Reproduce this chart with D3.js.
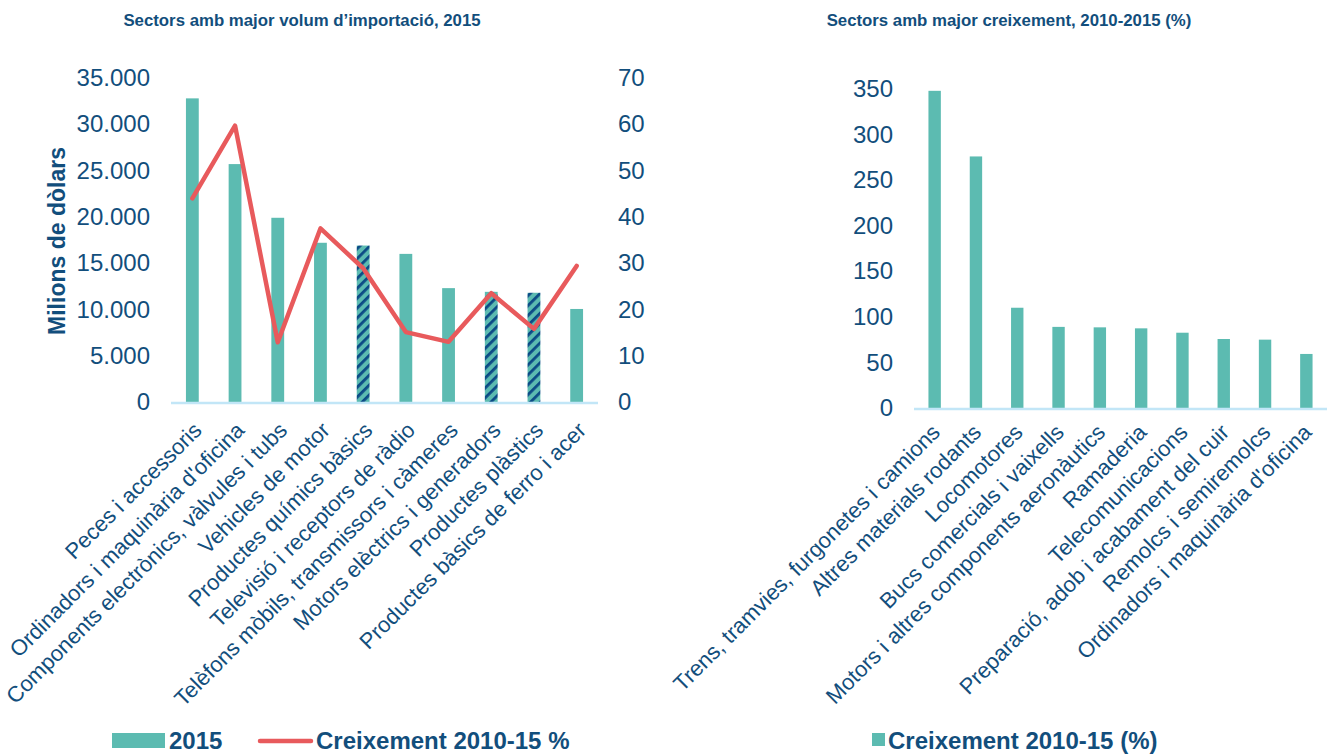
<!DOCTYPE html>
<html>
<head>
<meta charset="utf-8">
<script src="https://cdn.jsdelivr.net/npm/d3@7"></script>
<style>
  html, body { margin: 0; padding: 0; background: #fff; }
  svg { display: block; font-family: "Liberation Sans", Arial, sans-serif; }
</style>
</head>
<body>
<div id="chart"></div>
<script>
// dades: sectors amb major volum d'importació (2015)
const importSectors = [
  'Peces i accessoris',
  "Ordinadors i maquinària d'oficina",
  'Components electrònics, vàlvules i tubs',
  'Vehicles de motor',
  'Productes químics bàsics',
  'Televisió i receptors de ràdio',
  'Telèfons mòbils, transmissors i càmeres',
  'Motors elèctrics i generadors',
  'Productes plàstics',
  'Productes bàsics de ferro i acer'
];
const import2015 = [32800, 25700, 19900, 17200, 16900, 16000, 12300, 11900, 11800, 10050];
const importGrowth = [44.0, 59.7, 12.9, 37.5, 28.9, 15.1, 13.0, 23.5, 15.8, 29.4];
const leftTicks = [0, 5000, 10000, 15000, 20000, 25000, 30000, 35000];
const rightTicks = [0, 10, 20, 30, 40, 50, 60, 70];

// dades: sectors amb major creixement 2010-2015 (%)
const growthSectors = [
  'Trens, tramvies, furgonetes i camions',
  'Altres materials rodants',
  'Locomotores',
  'Bucs comercials i vaixells',
  'Motors i altres components aeronàutics',
  'Ramaderia',
  'Telecomunicacions',
  'Preparació, adob i acabament del cuir',
  'Remolcs i semiremolcs',
  "Ordinadors i maquinària d'oficina"
];
const growth1015 = [348, 276, 110, 89, 88.5, 87.4, 82.6, 75.7, 75, 59.3];
const growthTicks = [0, 50, 100, 150, 200, 250, 300, 350];

// barres ratllades al gràfic esquerre
const hatchedSectors = ['Productes químics bàsics', 'Motors elèctrics i generadors', 'Productes plàstics'];

const W = 1338, H = 754;
const TXT = '#124e7c', TEAL = '#5cbbb1', RED = '#e85a5c', STRIPE = '#0b4a85', AXIS = '#c2e6f7';

const locale = d3.formatLocale({ decimal: ',', thousands: '.', grouping: [3], currency: ['', '€'] });
const fmtThousands = locale.format(',');

const svg = d3.select('#chart').append('svg').attr('width', W).attr('height', H);

const defs = svg.append('defs');
const pat = defs.append('pattern')
  .attr('id', 'hatch')
  .attr('patternUnits', 'userSpaceOnUse')
  .attr('width', 7).attr('height', 7)
  .attr('patternTransform', 'rotate(45)');
pat.append('rect').attr('width', 7).attr('height', 7).attr('fill', TEAL);
pat.append('rect').attr('width', 2.8).attr('height', 7).attr('fill', STRIPE);

/* ---------- gràfic esquerre ---------- */
const L = { x0: 171, x1: 598, y0: 402, y1: 78 };

const xL = d3.scaleBand().domain(importSectors).range([L.x0, L.x1]).paddingInner(0.7).paddingOuter(0.35);
const yL = d3.scaleLinear().domain([0, 35000]).range([L.y0, L.y1]);
const yR = d3.scaleLinear().domain([0, 70]).range([L.y0, L.y1]);

svg.append('text')
  .attr('x', 302).attr('y', 26)
  .attr('text-anchor', 'middle')
  .attr('fill', TXT).attr('font-size', 16.8).attr('font-weight', 'bold')
  .text('Sectors amb major volum d’importació, 2015');

const axLeft = svg.append('g').attr('transform', `translate(${L.x0 - 21},0)`)
  .call(d3.axisLeft(yL).tickValues(leftTicks).tickSize(0).tickPadding(0).tickFormat(fmtThousands));
const axRight = svg.append('g').attr('transform', `translate(${L.x1 + 20},0)`)
  .call(d3.axisRight(yR).tickValues(rightTicks).tickSize(0).tickPadding(0));
[axLeft, axRight].forEach(function (g) {
  g.select('.domain').remove();
  g.selectAll('text').attr('fill', TXT).attr('font-size', 24).attr('font-family', null);
});

svg.append('text')
  .attr('transform', 'translate(65,241) rotate(-90)')
  .attr('text-anchor', 'middle')
  .attr('fill', TXT).attr('font-size', 23).attr('font-weight', 'bold')
  .text('Milions de dòlars');

svg.append('g').selectAll('rect')
  .data(importSectors)
  .join('rect')
  .attr('x', d => xL(d))
  .attr('width', xL.bandwidth())
  .attr('y', (d, i) => yL(import2015[i]))
  .attr('height', (d, i) => yL(0) - yL(import2015[i]))
  .attr('fill', d => hatchedSectors.includes(d) ? 'url(#hatch)' : TEAL);

svg.append('line')
  .attr('x1', L.x0).attr('x2', L.x1).attr('y1', L.y0 + 1).attr('y2', L.y0 + 1)
  .attr('stroke', AXIS).attr('stroke-width', 2.5);

const line = d3.line()
  .x(d => xL(d.name) + xL.bandwidth() / 2)
  .y(d => yR(d.value));
svg.append('path')
  .datum(importSectors.map((name, i) => ({ name, value: importGrowth[i] })))
  .attr('d', line)
  .attr('fill', 'none')
  .attr('stroke', RED).attr('stroke-width', 4.5)
  .attr('stroke-linejoin', 'round').attr('stroke-linecap', 'round');

svg.append('g').selectAll('text')
  .data(importSectors)
  .join('text')
  .attr('transform', d => `translate(${xL(d) + xL.bandwidth() / 2 - 1},${L.y0 + 18}) rotate(-45)`)
  .attr('dy', '0.75em')
  .attr('text-anchor', 'end')
  .attr('fill', TXT).attr('font-size', 22)
  .text(d => d);

// llegenda esquerra
const legL = svg.append('g');
legL.append('rect').attr('x', 112).attr('y', 733).attr('width', 53).attr('height', 15).attr('fill', TEAL);
legL.append('text').attr('x', 169).attr('y', 749).attr('fill', TXT).attr('font-size', 24).attr('font-weight', 'bold').text('2015');
legL.append('line').attr('x1', 260).attr('x2', 311).attr('y1', 741).attr('y2', 741)
  .attr('stroke', RED).attr('stroke-width', 4.5).attr('stroke-linecap', 'round');
legL.append('text').attr('x', 316).attr('y', 749).attr('fill', TXT).attr('font-size', 24).attr('font-weight', 'bold').text('Creixement 2010-15 %');

/* ---------- gràfic dret ---------- */
const R = { x0: 914, x1: 1327, y0: 408, y1: 89 };
const xG = d3.scaleBand().domain(growthSectors).range([R.x0, R.x1]).paddingInner(0.7).paddingOuter(0.35);
const yG = d3.scaleLinear().domain([0, 350]).range([R.y0, R.y1]);

svg.append('text')
  .attr('x', 1009).attr('y', 26)
  .attr('text-anchor', 'middle')
  .attr('fill', TXT).attr('font-size', 16.8).attr('font-weight', 'bold')
  .text('Sectors amb major creixement, 2010-2015 (%)');

const axG = svg.append('g').attr('transform', `translate(${R.x0 - 21},0)`)
  .call(d3.axisLeft(yG).tickValues(growthTicks).tickSize(0).tickPadding(0));
axG.select('.domain').remove();
axG.selectAll('text').attr('fill', TXT).attr('font-size', 24).attr('font-family', null);

svg.append('g').selectAll('rect')
  .data(growthSectors)
  .join('rect')
  .attr('x', d => xG(d))
  .attr('width', xG.bandwidth())
  .attr('y', (d, i) => yG(growth1015[i]))
  .attr('height', (d, i) => yG(0) - yG(growth1015[i]))
  .attr('fill', TEAL);

svg.append('line')
  .attr('x1', R.x0).attr('x2', R.x1).attr('y1', R.y0 + 1).attr('y2', R.y0 + 1)
  .attr('stroke', AXIS).attr('stroke-width', 2.5);

svg.append('g').selectAll('text')
  .data(growthSectors)
  .join('text')
  .attr('transform', d => `translate(${xG(d) + xG.bandwidth() / 2 - 5},${R.y0 + 14}) rotate(-45)`)
  .attr('dy', '0.75em')
  .attr('text-anchor', 'end')
  .attr('fill', TXT).attr('font-size', 22)
  .text(d => d);

// llegenda dreta
const legR = svg.append('g');
legR.append('rect').attr('x', 872).attr('y', 733).attr('width', 13).attr('height', 13).attr('fill', TEAL);
legR.append('text').attr('x', 888).attr('y', 749).attr('fill', TXT).attr('font-size', 24).attr('font-weight', 'bold').text('Creixement 2010-15 (%)');
</script>
</body>
</html>
